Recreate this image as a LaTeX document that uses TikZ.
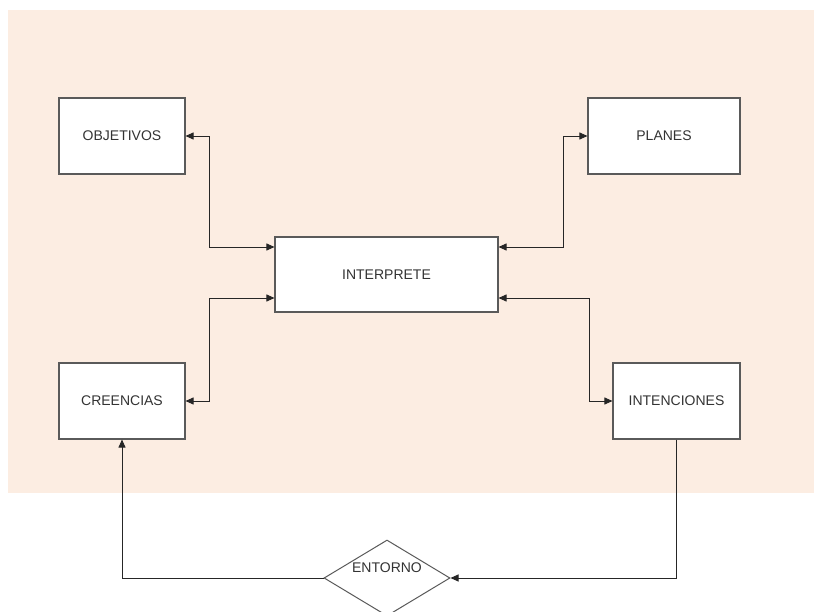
\documentclass[tikz,border=0pt]{standalone}
\usepackage{fontspec}
\setmainfont{Liberation Sans}
\usetikzlibrary{shapes.geometric,arrows.meta}
\definecolor{peach}{HTML}{FCEDE2}
\definecolor{boxline}{HTML}{5A5A5A}
\definecolor{txt}{HTML}{333333}
\begin{document}
\begin{tikzpicture}[x=1pt,y=-1pt,
  box/.style={draw=boxline, line width=1.1pt, fill=white, inner sep=0pt, font=\fontsize{14}{16}\selectfont, text=txt},
  conn/.style={draw=black!85, line width=0.9pt},
  tip/.style={-{Triangle[length=8pt,width=7pt]}},
  bitip/.style={{Triangle[length=8pt,width=7pt]}-{Triangle[length=8pt,width=7pt]}}]
\useasboundingbox (0,0) rectangle (814,612);
\fill[peach] (8,10) rectangle (814,493);

\node[box, minimum width=126pt, minimum height=76pt] (obj) at (122,136) {OBJETIVOS};
\node[box, minimum width=152pt, minimum height=76pt] (pla) at (664,136) {PLANES};
\node[box, minimum width=223pt, minimum height=75pt] (int) at (386.5,274.5) {INTERPRETE};
\node[box, minimum width=126pt, minimum height=76pt] (cre) at (122,401) {CREENCIAS};
\node[box, minimum width=127pt, minimum height=76pt] (inten) at (676.5,401) {INTENCIONES};
\node[diamond, draw=boxline, line width=1pt, fill=white, inner sep=0pt, minimum width=126pt, minimum height=76pt,
  label={[yshift=10pt, font=\fontsize{14}{16}\selectfont, text=txt]center:ENTORNO}] (ent) at (387,578) {};

\draw[conn, bitip] (obj.east) -- ++(24,0) |- ([yshift=27.5pt]int.west);
\draw[conn, bitip] (cre.east) -- ++(24,0) |- ([yshift=-23.5pt]int.west);
\draw[conn, bitip] (pla.west) -- ++(-24,0) |- ([yshift=27.5pt]int.east);
\draw[conn, bitip] (inten.west) -- ++(-23,0) |- ([yshift=-23.5pt]int.east);
\draw[conn, tip] (inten.south) |- (ent.east);
\draw[conn, tip] (ent.west) -| (cre.south);
\end{tikzpicture}
\end{document}
